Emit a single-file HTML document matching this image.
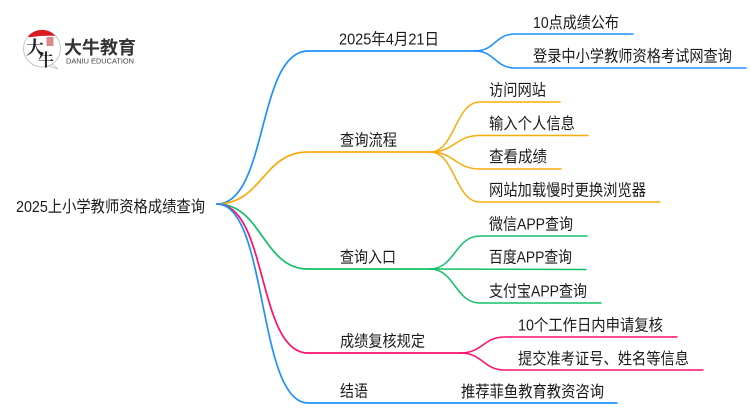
<!DOCTYPE html>
<html lang="zh">
<head>
<meta charset="utf-8">
<style>
html,body{margin:0;padding:0;background:#fff;width:750px;height:410px;overflow:hidden}
svg{display:block}
text{font-family:"Liberation Sans","Noto Sans CJK SC",sans-serif;font-size:16px;fill:#1a1a1a}
path{fill:none;stroke-linecap:round}
</style>
</head>
<body>
<svg width="750" height="410" viewBox="0 0 750 410" xmlns="http://www.w3.org/2000/svg">
<rect width="750" height="410" fill="#fff"/>

<!-- logo -->
<circle cx="42" cy="48.500" r="18.500" fill="#fff" stroke="#bbb" stroke-width="0.800"/>
<path d="M29 35.500 A18.500 18.500 0 0 1 55 35.500 Q42 35 29 37Z" style="fill:#d9181f" stroke="#d9181f" stroke-width="0.500"/>
<path d="M52 64 L58 69 L49 66" stroke="#bbb" stroke-width="0.800"/>
<rect x="46.500" y="37" width="7" height="9" style="fill:#c9484c" opacity="0.650"/>
<text x="26" y="54" textLength="18" lengthAdjust="spacingAndGlyphs" style="font-size:18px;font-weight:700;font-family:'Noto Serif CJK SC',serif;fill:#222">大</text>
<text x="38" y="66" textLength="16" lengthAdjust="spacingAndGlyphs" style="font-size:17px;font-weight:700;font-family:'Noto Serif CJK SC',serif;fill:#222">牛</text>
<text x="64" y="54" textLength="72" lengthAdjust="spacingAndGlyphs" style="font-size:18px;font-weight:700;fill:#333">大牛教育</text>
<text x="66" y="63.500" textLength="68" lengthAdjust="spacingAndGlyphs" style="font-size:7.500px;fill:#444">DANIU EDUCATION</text>

<!-- main branches -->
<g stroke-width="1.700">
<path stroke="#1e90ff" d="M217 204 C268 204 257 51 308 51 L478 51"/>
<path stroke="#f9ab0a" d="M217 204 C262 204 263 152 308 152 L432 152"/>
<path stroke="#12c06a" d="M217 204 C262 204 263 269 308 269 L432 269"/>
<path stroke="#ff0f6a" d="M217 204 C268 204 257 353 308 353 L462 353"/>
<path stroke="#1e90ff" d="M217 204 C268 204 257 403 308 403 L617 403"/>
</g>

<!-- sub branches -->
<g stroke-width="1.500">
<path stroke="#1e90ff" d="M475 51 C495 51 495 34 515 34 L633 34"/>
<path stroke="#1e90ff" d="M475 51 C495 51 495 68 515 68 L746 68"/>

<path stroke="#f9ab0a" d="M430 152 C455 152 455 102 480 102 L560 102"/>
<path stroke="#f9ab0a" d="M430 152 C455 152 455 135.500 480 135.500 L588 135.500"/>
<path stroke="#f9ab0a" d="M430 152 C455 152 455 169 480 169 L561 169"/>
<path stroke="#f9ab0a" d="M430 152 C455 152 455 202 480 202 L660 202"/>

<path stroke="#12c06a" d="M430 269 C455 269 455 236 480 236 L587 236"/>
<path stroke="#12c06a" d="M430 269 L586 269.500"/>
<path stroke="#12c06a" d="M430 269 C455 269 455 303 480 303 L601 303"/>

<path stroke="#ff0f6a" d="M460 353 C483 353 483 337 505 337 L677 337"/>
<path stroke="#ff0f6a" d="M460 353 C483 353 483 370 505 370 L703 370"/>
</g>

<!-- labels -->
<text x="16" y="212" textLength="189" lengthAdjust="spacingAndGlyphs">2025上小学教师资格成绩查询</text>

<text x="339" y="44.500" textLength="100" lengthAdjust="spacingAndGlyphs">2025年4月21日</text>
<text x="533" y="28" textLength="86" lengthAdjust="spacingAndGlyphs">10点成绩公布</text>
<text x="533" y="61.500" textLength="199" lengthAdjust="spacingAndGlyphs">登录中小学教师资格考试网查询</text>

<text x="340" y="145.500" textLength="57" lengthAdjust="spacingAndGlyphs">查询流程</text>
<text x="489" y="95.500" textLength="57" lengthAdjust="spacingAndGlyphs">访问网站</text>
<text x="489" y="129" textLength="86" lengthAdjust="spacingAndGlyphs">输入个人信息</text>
<text x="489" y="162" textLength="58" lengthAdjust="spacingAndGlyphs">查看成绩</text>
<text x="489" y="195.500" textLength="157" lengthAdjust="spacingAndGlyphs">网站加载慢时更换浏览器</text>

<text x="340" y="262.500" textLength="56" lengthAdjust="spacingAndGlyphs">查询入口</text>
<text x="489" y="229.500" textLength="84" lengthAdjust="spacingAndGlyphs">微信APP查询</text>
<text x="489" y="262.500" textLength="83" lengthAdjust="spacingAndGlyphs">百度APP查询</text>
<text x="489" y="296.500" textLength="98" lengthAdjust="spacingAndGlyphs">支付宝APP查询</text>

<text x="340" y="346.500" textLength="85" lengthAdjust="spacingAndGlyphs">成绩复核规定</text>
<text x="518" y="330.500" textLength="145" lengthAdjust="spacingAndGlyphs">10个工作日内申请复核</text>
<text x="518" y="364" textLength="171" lengthAdjust="spacingAndGlyphs">提交准考证号、姓名等信息</text>

<text x="340" y="396.500" textLength="28" lengthAdjust="spacingAndGlyphs">结语</text>
<text x="461" y="397" textLength="143" lengthAdjust="spacingAndGlyphs">推荐菲鱼教育教资咨询</text>
</svg>
</body>
</html>
